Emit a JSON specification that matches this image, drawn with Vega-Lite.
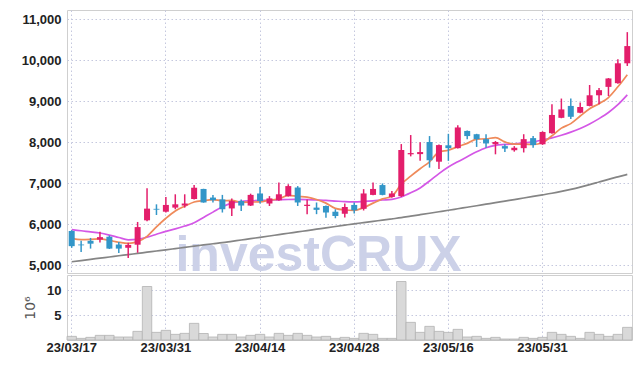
{
  "$schema": "https://vega.github.io/schema/vega-lite/v6.json",
  "background": "white",
  "padding": {"left": 6, "top": 9, "right": 8, "bottom": 0},
  "spacing": 0,
  "config": {
    "view": {"stroke": "#cfcfcf"},
    "concat": {"spacing": 0},
    "axis": {
      "labelFont": "Liberation Sans",
      "labelFontSize": 13,
      "labelFontWeight": "bold",
      "labelColor": "#222222",
      "gridColor": "#c5c8de",
      "gridDash": [1.5, 2.5],
      "gridWidth": 1,
      "domain": false,
      "ticks": false
    }
  },
  "datasets": {
    "k": [
      {"d":"23/03/17","o":5830,"h":5850,"l":5420,"c":5460,"v":0.73,"m5":5650,"m20":5865,"m120":5080},
      {"d":"23/03/20","o":5500,"h":5590,"l":5320,"c":5480,"v":0.33,"m5":5620,"m20":5835,"m120":5109},
      {"d":"23/03/21","o":5590,"h":5660,"l":5400,"c":5520,"v":0.53,"m5":5625,"m20":5810,"m120":5138},
      {"d":"23/03/22","o":5620,"h":5810,"l":5550,"c":5680,"v":0.93,"m5":5635,"m20":5780,"m120":5167},
      {"d":"23/03/23","o":5690,"h":5720,"l":5390,"c":5400,"v":0.93,"m5":5600,"m20":5730,"m120":5196},
      {"d":"23/03/24","o":5500,"h":5560,"l":5290,"c":5400,"v":0.6,"m5":5555,"m20":5670,"m120":5225},
      {"d":"23/03/27","o":5420,"h":5545,"l":5170,"c":5490,"v":0.6,"m5":5530,"m20":5615,"m120":5254},
      {"d":"23/03/28","o":5495,"h":6050,"l":5300,"c":5925,"v":1.73,"m5":5570,"m20":5625,"m120":5283},
      {"d":"23/03/29","o":6090,"h":6870,"l":6070,"c":6375,"v":10.7,"m5":5700,"m20":5680,"m120":5312},
      {"d":"23/03/30","o":6370,"h":6480,"l":6220,"c":6350,"v":1.53,"m5":5930,"m20":5750,"m120":5341},
      {"d":"23/03/31","o":6300,"h":6660,"l":6280,"c":6465,"v":1.93,"m5":6140,"m20":5820,"m120":5370},
      {"d":"23/04/03","o":6400,"h":6725,"l":6360,"c":6480,"v":1.13,"m5":6319,"m20":5880,"m120":5400},
      {"d":"23/04/04","o":6450,"h":6725,"l":6400,"c":6500,"v":1.33,"m5":6434,"m20":5950,"m120":5430},
      {"d":"23/04/05","o":6610,"h":6950,"l":6600,"c":6885,"v":3.33,"m5":6536,"m20":6030,"m120":5460},
      {"d":"23/04/06","o":6855,"h":6860,"l":6520,"c":6525,"v":1.3,"m5":6571,"m20":6160,"m120":5490},
      {"d":"23/04/07","o":6645,"h":6710,"l":6525,"c":6580,"v":0.6,"m5":6594,"m20":6290,"m120":5518},
      {"d":"23/04/10","o":6600,"h":6710,"l":6280,"c":6360,"v":1.13,"m5":6570,"m20":6420,"m120":5545},
      {"d":"23/04/11","o":6380,"h":6625,"l":6195,"c":6560,"v":1.13,"m5":6575,"m20":6510,"m120":5578},
      {"d":"23/04/12","o":6560,"h":6600,"l":6315,"c":6450,"v":0.6,"m5":6530,"m20":6550,"m120":5610},
      {"d":"23/04/13","o":6450,"h":6740,"l":6440,"c":6710,"v":0.93,"m5":6535,"m20":6565,"m120":5643},
      {"d":"23/04/14","o":6745,"h":6900,"l":6500,"c":6560,"v":1.13,"m5":6540,"m20":6575,"m120":5675},
      {"d":"23/04/17","o":6500,"h":6680,"l":6440,"c":6625,"v":0.6,"m5":6581,"m20":6582,"m120":5708},
      {"d":"23/04/18","o":6580,"h":7010,"l":6570,"c":6725,"v":1.33,"m5":6614,"m20":6590,"m120":5741},
      {"d":"23/04/19","o":6680,"h":6970,"l":6670,"c":6925,"v":0.93,"m5":6700,"m20":6598,"m120":5774},
      {"d":"23/04/20","o":6890,"h":6925,"l":6440,"c":6525,"v":1.33,"m5":6672,"m20":6600,"m120":5807},
      {"d":"23/04/21","o":6440,"h":6600,"l":6240,"c":6470,"v":0.93,"m5":6654,"m20":6595,"m120":5840},
      {"d":"23/04/24","o":6400,"h":6525,"l":6240,"c":6345,"v":0.6,"m5":6598,"m20":6585,"m120":5873},
      {"d":"23/04/25","o":6440,"h":6450,"l":6155,"c":6280,"v":0.73,"m5":6509,"m20":6575,"m120":5906},
      {"d":"23/04/26","o":6300,"h":6360,"l":6140,"c":6195,"v":0.33,"m5":6380,"m20":6560,"m120":5939},
      {"d":"23/04/27","o":6250,"h":6500,"l":6160,"c":6415,"v":0.53,"m5":6341,"m20":6545,"m120":5972},
      {"d":"23/04/28","o":6465,"h":6525,"l":6255,"c":6335,"v":0.33,"m5":6330,"m20":6540,"m120":6005},
      {"d":"23/05/02","o":6370,"h":6850,"l":6330,"c":6745,"v":1.33,"m5":6400,"m20":6550,"m120":6035},
      {"d":"23/05/03","o":6710,"h":7010,"l":6700,"c":6855,"v":1.13,"m5":6509,"m20":6565,"m120":6065},
      {"d":"23/05/04","o":6950,"h":6990,"l":6700,"c":6710,"v":0.33,"m5":6612,"m20":6585,"m120":6095},
      {"d":"23/05/08","o":6660,"h":6805,"l":6640,"c":6745,"v":0.33,"m5":6678,"m20":6600,"m120":6125},
      {"d":"23/05/09","o":6680,"h":7950,"l":6660,"c":7805,"v":11.7,"m5":6972,"m20":6660,"m120":6155},
      {"d":"23/05/10","o":7700,"h":8170,"l":7650,"c":7730,"v":3.53,"m5":7169,"m20":6760,"m120":6191},
      {"d":"23/05/11","o":7705,"h":7995,"l":7545,"c":7755,"v":1.53,"m5":7349,"m20":6880,"m120":6227},
      {"d":"23/05/12","o":8000,"h":8145,"l":7375,"c":7555,"v":2.73,"m5":7518,"m20":7050,"m120":6263},
      {"d":"23/05/15","o":7520,"h":7940,"l":7340,"c":7925,"v":1.73,"m5":7754,"m20":7230,"m120":6299},
      {"d":"23/05/16","o":7920,"h":8200,"l":7540,"c":7850,"v":1.53,"m5":7800,"m20":7390,"m120":6335},
      {"d":"23/05/17","o":7850,"h":8410,"l":7840,"c":8355,"v":2.13,"m5":7888,"m20":7520,"m120":6372},
      {"d":"23/05/18","o":8270,"h":8280,"l":8070,"c":8145,"v":0.6,"m5":7966,"m20":7640,"m120":6409},
      {"d":"23/05/19","o":8190,"h":8200,"l":7880,"c":8070,"v":0.73,"m5":8069,"m20":7760,"m120":6446},
      {"d":"23/05/22","o":8070,"h":8190,"l":7860,"c":7965,"v":0.33,"m5":8077,"m20":7860,"m120":6483},
      {"d":"23/05/23","o":7945,"h":8025,"l":7700,"c":8000,"v":0.53,"m5":8107,"m20":7920,"m120":6520},
      {"d":"23/05/24","o":7900,"h":7945,"l":7755,"c":7840,"v":0.2,"m5":8004,"m20":7940,"m120":6558},
      {"d":"23/05/25","o":7800,"h":7900,"l":7765,"c":7860,"v":0.2,"m5":7947,"m20":7955,"m120":6596},
      {"d":"23/05/26","o":7850,"h":8190,"l":7745,"c":8070,"v":0.53,"m5":7947,"m20":7975,"m120":6634},
      {"d":"23/05/30","o":8095,"h":8145,"l":7860,"c":7925,"v":0.33,"m5":7939,"m20":8005,"m120":6672},
      {"d":"23/05/31","o":7945,"h":8260,"l":7930,"c":8245,"v":0.53,"m5":7988,"m20":8050,"m120":6710},
      {"d":"23/06/01","o":8215,"h":8920,"l":8200,"c":8660,"v":1.53,"m5":8152,"m20":8100,"m120":6750},
      {"d":"23/06/02","o":8590,"h":9060,"l":8580,"c":8795,"v":1.13,"m5":8339,"m20":8165,"m120":6795},
      {"d":"23/06/05","o":8880,"h":9060,"l":8560,"c":8615,"v":0.73,"m5":8448,"m20":8240,"m120":6845},
      {"d":"23/06/07","o":8715,"h":8965,"l":8700,"c":8855,"v":0.33,"m5":8634,"m20":8330,"m120":6900},
      {"d":"23/06/08","o":8880,"h":9390,"l":8870,"c":9140,"v":1.53,"m5":8813,"m20":8440,"m120":6960},
      {"d":"23/06/09","o":9140,"h":9320,"l":8920,"c":9265,"v":1.13,"m5":8934,"m20":8570,"m120":7025},
      {"d":"23/06/12","o":9345,"h":9560,"l":9120,"c":9550,"v":0.73,"m5":9085,"m20":8720,"m120":7090},
      {"d":"23/06/13","o":9435,"h":10020,"l":9420,"c":9920,"v":1.13,"m5":9346,"m20":8910,"m120":7150},
      {"d":"23/06/14","o":9920,"h":10680,"l":9855,"c":10340,"v":2.53,"m5":9643,"m20":9150,"m120":7210}
    ]
  },
  "vconcat": [
    {
      "width": 565,
      "height": 263,
      "data": {"name": "k"},
      "layer": [
        {
          "data": {"values": [{"d": "23/04/24", "p": 4850, "t": "investCRUX"}]},
          "mark": {"type": "text", "font": "Liberation Sans", "fontWeight": "bold", "fontSize": 50, "color": "#ccd1e8", "align": "center", "baseline": "alphabetic", "dx": 2, "clip": true},
          "encoding": {
            "x": {"field": "d", "type": "ordinal", "bandPosition": 0.5, "scale": {"paddingInner": 0, "paddingOuter": 0},
              "axis": {"values": ["23/03/17","23/03/31","23/04/14","23/04/28","23/05/16","23/05/31"], "labels": false, "title": null, "grid": true, "orient": "bottom", "bandPosition": 0.5}},
            "y": {"field": "p", "type": "quantitative", "scale": {"domain": [4805, 11220], "nice": false, "zero": false},
              "axis": {"values": [5000,6000,7000,8000,9000,10000,11000], "format": ",d", "title": null, "labelPadding": 6, "minExtent": 60, "maxExtent": 60, "grid": true}},
            "text": {"field": "t"}
          }
        },
        {
          "mark": {"type": "line", "interpolate": "monotone", "strokeWidth": 1.7, "color": "#858585"},
          "encoding": {
            "x": {"field": "d", "type": "ordinal", "bandPosition": 0.5},
            "y": {"field": "m120", "type": "quantitative", "title": null}
          }
        },
        {
          "mark": {"type": "line", "interpolate": "monotone", "strokeWidth": 1.7, "color": "#d457e6"},
          "encoding": {
            "x": {"field": "d", "type": "ordinal", "bandPosition": 0.5},
            "y": {"field": "m20", "type": "quantitative", "title": null}
          }
        },
        {
          "mark": {"type": "line", "interpolate": "monotone", "strokeWidth": 1.7, "color": "#ef8a5a"},
          "encoding": {
            "x": {"field": "d", "type": "ordinal", "bandPosition": 0.5},
            "y": {"field": "m5", "type": "quantitative", "title": null}
          }
        },
        {
          "mark": {"type": "rule", "strokeWidth": 1.5},
          "encoding": {
            "x": {"field": "d", "type": "ordinal", "bandPosition": 0.5},
            "y": {"field": "l", "type": "quantitative", "title": null},
            "y2": {"field": "h"},
            "color": {"condition": {"test": "datum.c >= datum.o", "value": "#e31e6b"}, "value": "#3396c8"}
          }
        },
        {
          "mark": {"type": "bar", "size": 6},
          "encoding": {
            "x": {"field": "d", "type": "ordinal"},
            "y": {"field": "o", "type": "quantitative", "title": null},
            "y2": {"field": "c"},
            "color": {"condition": {"test": "datum.c >= datum.o", "value": "#e31e6b"}, "value": "#3396c8"}
          }
        }
      ]
    },
    {
      "width": 565,
      "height": 65,
      "data": {"name": "k"},
      "mark": {"type": "bar", "fill": "#d9d9d9", "stroke": "#b3b3b3", "strokeWidth": 0.8},
      "encoding": {
        "x": {"field": "d", "type": "ordinal", "scale": {"paddingInner": 0, "paddingOuter": 0},
          "axis": {"values": ["23/03/17","23/03/31","23/04/14","23/04/28","23/05/16","23/05/31"], "title": null, "grid": true, "labelPadding": 1, "labelAngle": 0, "bandPosition": 0.5}},
        "y": {"field": "v", "type": "quantitative", "scale": {"domain": [0, 13], "nice": false},
          "axis": {"values": [5, 10], "title": "10⁶", "titleFont": "DejaVu Sans", "titleFontSize": 14, "titleFontWeight": "normal", "titleColor": "#555555", "titlePadding": 9, "labelPadding": 6, "grid": true}}
      }
    }
  ]
}
